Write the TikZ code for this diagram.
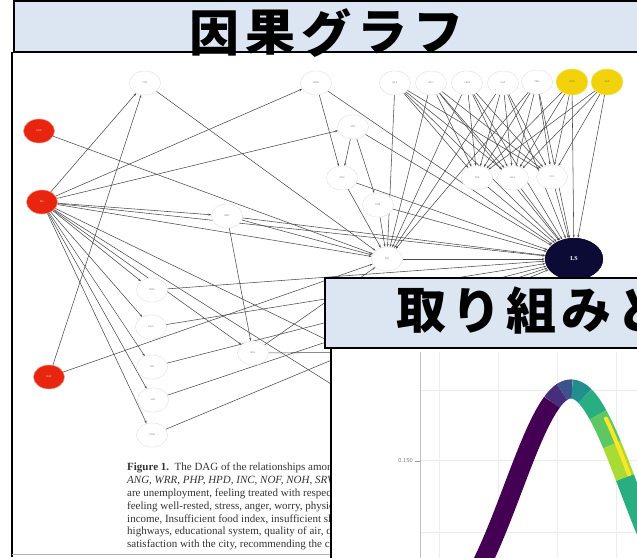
\documentclass[tikz,border=0pt]{standalone}
\usepackage{fontspec}
\setmainfont{Liberation Serif}
\newfontfamily\cjk{Noto Sans CJK JP}
\usetikzlibrary{arrows.meta, shapes.geometric}

\definecolor{slideblue}{HTML}{DCE6F2}
\definecolor{dagred}{HTML}{E8260F}
\definecolor{dagyellow}{HTML}{F2D20A}
\definecolor{dagnavy}{HTML}{0B0B36}
\definecolor{virA}{HTML}{440154}
\definecolor{virA2}{HTML}{472D7B}
\definecolor{virB}{HTML}{3B528B}
\definecolor{virC}{HTML}{21908C}
\definecolor{virC2}{HTML}{28AE80}
\definecolor{virD}{HTML}{5DC863}
\definecolor{virE}{HTML}{A8DB34}
\definecolor{virF}{HTML}{FDE725}

\begin{document}
\begin{tikzpicture}
  [
    x = 1pt, y = -1pt,
    var/.style = {draw = black!10, fill = white, ellipse, inner sep = 0pt,
      minimum width = 31pt, minimum height = 24pt,
      font = \fontsize{2.5}{3}\selectfont, text = black!55},
    cause/.style = {var, draw = dagred!35, fill = dagred, text = white},
    conf/.style = {var, draw = dagyellow!45, fill = dagyellow, text = black!60,
      minimum width = 32pt, minimum height = 26pt},
    outc/.style = {var, draw = none, fill = dagnavy, text = white,
      minimum width = 58pt, minimum height = 42pt,
      font = \fontsize{6}{7}\selectfont\bfseries},
    edge/.style = {draw = black!70, line width = 0.55pt,
      -{Stealth[length = 3pt, width = 2pt]}},
    titlebox/.style = {draw = black, line width = 2.5pt, fill = slideblue},
    jptitle/.style = {font = \cjk\bfseries\fontsize{50}{50}\selectfont, inner sep = 0pt},
    band/.style = {line width = 19pt, line join = round},
  ]
  \useasboundingbox (0,0) rectangle (637,557);
  \clip (0,0) rectangle (637,557);

  % the DAG figure
  \draw[black, line width = 2pt] (12,52) -- (12,557);
  \draw[black!30] (12,554) -- (331,554);

  \node[cause] (une) at (39,131)  {UNE};
  \node[cause] (inc) at (42,202)  {INC};
  \node[cause] (nof) at (49,377)  {NOF};
  \node[var]   (ftr) at (145,83)  {FTR};
  \node[var]   (wrr) at (316,83)  {WRR};
  \node[var]   (qty) at (395,83)  {QTY};
  \node[var]   (rec) at (431,83)  {REC};
  \node[var]   (crm) at (467,83)  {CRM};
  \node[var]   (saf) at (503,83)  {SAF};
  \node[var]   (prk) at (537,82)  {PRK};
  \node[conf]  (age) at (572,82)  {AGE};
  \node[conf]  (sex) at (607,82)  {SEX};
  \node[var]   (str) at (353,127) {STR};
  \node[var]   (ang) at (342,178) {ANG};
  \node[var]   (php) at (378,205) {PHP};
  \node[var]   (trs) at (477,178) {TRS};
  \node[var]   (hlt) at (513,178) {HLT};
  \node[var]   (cul) at (552,177) {CUL};
  \node[var]   (hpd) at (227,216) {HPD};
  \node[var]   (sat) at (387,259) {SAT};
  \node[outc]  (ls)  at (574,259) {LS};
  \node[var]   (hwy) at (152,290) {HWY};
  \node[var]   (edu) at (151,327) {EDU};
  \node[var]   (air) at (152,367) {AIR};
  \node[var]   (srv) at (153,400) {SRV};
  \node[var]   (noh) at (152,435) {NOH};
  \node[var]   (wel) at (253,353) {WEL};
  \coordinate (hid1) at (420,440);
  \coordinate (hid2) at (420,385);
  \coordinate (hid3) at (420,352);

  \foreach \a/\b in {inc/ftr, inc/wrr, inc/str, inc/hpd, inc/sat, inc/ls,
      inc/hwy, inc/edu, inc/air, inc/srv, inc/noh, inc/wel, inc/hid1, inc/hid2,
      une/sat, nof/ftr, nof/sat, ftr/sat, wrr/ang, wrr/ls,
      str/ang, str/php, str/ls, ang/sat, ang/ls, php/sat, php/ls,
      hpd/sat, hpd/wel, hpd/ls, wel/sat, wel/hid3,
      hwy/ls, edu/ls, air/ls, srv/ls, noh/ls,
      trs/ls, hlt/ls, cul/ls, sat/ls, age/ls, sex/ls}
    \draw[edge] (\a) -- (\b);
  \foreach \a in {qty, rec, crm, saf, prk, age, sex} {
    \foreach \b in {trs, hlt, cul}
      \draw[edge] (\a) -- (\b);
  }
  \foreach \a in {qty, rec, crm, saf, prk} {
    \draw[edge] (\a) -- (sat);
    \draw[edge] (\a) -- (ls);
  }

  % redraw nodes over the edges
  \foreach \s/\p/\t in {cause/{39,131}/UNE, cause/{42,202}/INC,
      cause/{49,377}/NOF, var/{145,83}/FTR, var/{316,83}/WRR,
      var/{395,83}/QTY, var/{431,83}/REC, var/{467,83}/CRM,
      var/{503,83}/SAF, var/{537,82}/PRK, conf/{572,82}/AGE,
      conf/{607,82}/SEX, var/{353,127}/STR, var/{342,178}/ANG,
      var/{378,205}/PHP, var/{477,178}/TRS, var/{513,178}/HLT,
      var/{552,177}/CUL, var/{227,216}/HPD, var/{387,259}/SAT,
      outc/{574,259}/LS, var/{152,290}/HWY, var/{151,327}/EDU,
      var/{152,367}/AIR, var/{153,400}/SRV, var/{152,435}/NOH,
      var/{253,353}/WEL}
    \node[\s] at (\p) {\t};

  \node[anchor = north west, align = left, inner sep = 0pt, text = black!80,
    font = \fontsize{11}{12.8}\selectfont] (caption) at (127,463)
    {\textbf{Figure 1.}\enspace The DAG of the relationships among\\
     \textit{ANG, WRR, PHP, HPD, INC, NOF, NOH, SRV}\\
     are unemployment, feeling treated with respect\\
     feeling well-rested, stress, anger, worry, physical\\
     income, Insufficient food index, insufficient sleep\\
     highways, educational system, quality of air, quality\\
     satisfaction with the city, recommending the city};

  % first title
  \draw[titlebox] (14,1) rectangle (700,52);
  \foreach \ch [count = \i] in {因, 果, グ, ラ, フ}
    \node[jptitle] (ta\i) at ({214 + 56*(\i-1)}, 33) {\ch};

  % the plot
  \fill[white] (331,348) rectangle (700,600);
  \draw[black, line width = 2pt] (331,348) -- (331,560);
  \foreach \gy in {390, 460, 532}
    \draw[black!8, line width = 0.8pt] (420,\gy) -- (640,\gy);
  \foreach \gx in {439, 498, 557, 616}
    \draw[black!7, line width = 0.8pt] (\gx,352) -- (\gx,560);
  \draw[black!25, line width = 1pt] (420,352) -- (420,560);
  \draw[black!40] (415,461) -- (420,461);
  \node[anchor = east, inner sep = 1pt, text = black!50,
    font = \sffamily\fontsize{6}{7}\selectfont] (ytick) at (414,461) {0.150};
  \foreach \xa/\xb/\col in {460/552/virA, 552/562/virA2, 562/572/virB,
      572/585/virC, 585/598/virC2, 598/612/virD, 612/625/virE, 625/650/virC2}
    \draw[band, \col] plot[domain = \xa:\xb, samples = 25]
      (\x, {640 - 251*exp(-((\x-571)^2)/6688)});
  \draw[line width = 4pt, virF, line cap = round] plot[domain = 603:626, samples = 15]
    (\x+3, {634 - 251*exp(-((\x-571)^2)/6688)});

  % second title
  \draw[titlebox] (325,278) rectangle (700,348);
  \foreach \ch [count = \i] in {取, り, 組, み, と}
    \node[jptitle] (tb\i) at ({421 + 55*(\i-1)}, 311) {\ch};
\end{tikzpicture}
\end{document}
